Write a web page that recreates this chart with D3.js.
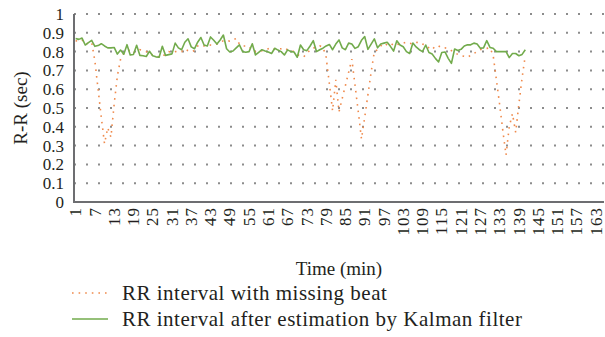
<!DOCTYPE html>
<html>
<head>
<meta charset="utf-8">
<script src="https://cdn.jsdelivr.net/npm/d3@7"></script>
<style>
  body { margin: 0; background: #fff; }
  svg text { font-family: "Liberation Serif", "DejaVu Serif", serif; fill: #231f20; }
</style>
</head>
<body>
<div class="canvas"></div>
<script>
// minutes on the category axis (1..165), labels every 6th
const minutes = d3.range(1, 166);
const yTicks = [0, 0.1, 0.2, 0.3, 0.4, 0.5, 0.6, 0.7, 0.8, 0.9, 1];

// RR interval with missing beat (orange, dotted)
const rrMissing = [
  0.858, 0.855, 0.862, 0.84, 0.845, 0.85, 0.75, 0.6, 0.45, 0.31,
  0.395, 0.345, 0.52, 0.67, 0.76, 0.79, 0.8, 0.81, 0.795, 0.8,
  0.81, 0.805, 0.8, 0.795, 0.78, 0.775, 0.772, 0.77, 0.79, 0.8,
  0.795, 0.8, 0.802, 0.8, 0.815, 0.805, 0.8, 0.805, 0.83, 0.835,
  0.83, 0.828, 0.835, 0.835, 0.84, 0.85, 0.858, 0.86, 0.855, 0.862,
  0.87, 0.84, 0.83, 0.83, 0.828, 0.805, 0.8, 0.8, 0.805, 0.81,
  0.815, 0.82, 0.812, 0.815, 0.815, 0.82, 0.81, 0.805, 0.8, 0.785,
  0.775, 0.772, 0.79, 0.81, 0.82, 0.822, 0.83, 0.825, 0.77, 0.63,
  0.485, 0.65, 0.48, 0.55, 0.62, 0.69, 0.76, 0.62, 0.48, 0.335,
  0.45, 0.57, 0.69, 0.8, 0.81, 0.83, 0.845, 0.835, 0.83, 0.845,
  0.84, 0.838, 0.845, 0.85, 0.845, 0.84, 0.848, 0.85, 0.84, 0.835,
  0.82, 0.81, 0.83, 0.83, 0.82, 0.82, 0.815, 0.805, 0.795, 0.785,
  0.778, 0.775, 0.77, 0.78, 0.79, 0.8, 0.81, 0.815, 0.817, 0.82,
  0.78, 0.65, 0.52, 0.38, 0.25, 0.4, 0.47, 0.37, 0.52, 0.66,
  0.78
];

// RR interval after estimation by Kalman filter (green, solid)
const rrKalman = [
  0.87, 0.865, 0.872, 0.835, 0.848, 0.86, 0.828, 0.832, 0.842, 0.83,
  0.82, 0.82, 0.822, 0.787, 0.808, 0.786, 0.837, 0.782, 0.785, 0.834,
  0.78, 0.778, 0.774, 0.802, 0.778, 0.772, 0.77, 0.828, 0.78, 0.784,
  0.788, 0.845, 0.82, 0.81, 0.85, 0.868, 0.825, 0.815, 0.85, 0.875,
  0.835, 0.83, 0.878, 0.86, 0.84, 0.862, 0.888, 0.815, 0.798, 0.803,
  0.82, 0.836, 0.8, 0.797, 0.8, 0.842, 0.782, 0.796, 0.81, 0.803,
  0.798, 0.79, 0.818, 0.808, 0.8, 0.782, 0.809, 0.8, 0.798, 0.77,
  0.835, 0.81, 0.805, 0.83, 0.858, 0.8, 0.81, 0.818, 0.83, 0.838,
  0.81, 0.84, 0.862, 0.82, 0.81, 0.845, 0.84, 0.817, 0.826, 0.86,
  0.88, 0.812, 0.84, 0.868, 0.82, 0.84, 0.845, 0.85, 0.828, 0.803,
  0.858, 0.835, 0.826, 0.8, 0.79, 0.846, 0.825, 0.81, 0.8, 0.835,
  0.795, 0.787, 0.764, 0.745, 0.795, 0.798, 0.764, 0.737, 0.814, 0.806,
  0.812, 0.83, 0.836, 0.836, 0.845, 0.84, 0.818, 0.82, 0.858, 0.822,
  0.818, 0.8, 0.8, 0.8, 0.8, 0.768, 0.79, 0.79, 0.778, 0.785,
  0.81
];

const seriesNames = ["RR interval with missing beat", "RR interval after estimation by Kalman filter"];
const colours = { missing: "#ef8a4c", kalman: "#72ab4c" };

const dims = { width: 605, height: 337 };
const plot = { left: 74, right: 604, top: 14, bottom: 202 };

const svg = d3
  .select(".canvas")
  .append("svg")
  .attr("width", dims.width)
  .attr("height", dims.height);

const x = d3.scaleBand().domain(minutes).range([plot.left, plot.right]).padding(0);
const y = d3.scaleLinear().domain([0, 1]).range([plot.bottom, plot.top]);
const cx = (i) => x(minutes[i]) + x.bandwidth() / 2;

// dotted horizontal gridlines
svg
  .append("g")
  .selectAll("line")
  .data(yTicks.filter((d) => d > 0))
  .join("line")
  .attr("x1", plot.left)
  .attr("x2", plot.right)
  .attr("y1", (d) => y(d))
  .attr("y2", (d) => y(d))
  .attr("stroke", "#8c8c8c")
  .attr("stroke-width", 2)
  .attr("stroke-dasharray", "2 10");

// y axis
const yAxis = svg
  .append("g")
  .attr("transform", `translate(${plot.left},0)`)
  .call(d3.axisLeft(y).tickValues(yTicks).tickSize(0).tickPadding(10).tickFormat(d3.format("")));
yAxis.select(".domain").remove();
yAxis.attr("font-family", null).attr("font-size", null);
yAxis.selectAll("text").style("font-size", "17px");

// x axis
const xAxis = svg
  .append("g")
  .attr("transform", `translate(0,${plot.bottom})`)
  .call(d3.axisBottom(x).tickValues(minutes.filter((d) => (d - 1) % 6 === 0)).tickSize(0));
xAxis.select(".domain").remove();
xAxis.attr("font-family", null).attr("font-size", null);
xAxis
  .selectAll("text")
  .style("font-size", "17px")
  .style("letter-spacing", "1px")
  .attr("transform", "rotate(-90)")
  .attr("text-anchor", "end")
  .attr("x", -5)
  .attr("y", 0)
  .attr("dy", "0.33em");

// axis lines
svg
  .append("path")
  .attr("d", `M${plot.left},${plot.top}V${plot.bottom}H${plot.right}`)
  .attr("fill", "none")
  .attr("stroke", "#6d6e71")
  .attr("stroke-width", 2);

const line = (vals) =>
  d3
    .line()
    .x((d, i) => cx(i))
    .y((d) => y(d))(vals);

svg
  .append("path")
  .attr("d", line(rrMissing))
  .attr("fill", "none")
  .attr("stroke", colours.missing)
  .attr("stroke-width", 1.6)
  .attr("stroke-dasharray", "1.6 5");

svg
  .append("path")
  .attr("d", line(rrKalman))
  .attr("fill", "none")
  .attr("stroke", colours.kalman)
  .attr("stroke-width", 1.6)
  .attr("stroke-linejoin", "round");

// axis titles
svg
  .append("text")
  .attr("x", (plot.left + plot.right) / 2)
  .attr("y", 275)
  .attr("text-anchor", "middle")
  .style("font-size", "19px")
  .text("Time (min)");

svg
  .append("text")
  .attr("transform", `translate(27,${(plot.top + plot.bottom) / 2}) rotate(-90)`)
  .attr("text-anchor", "middle")
  .style("font-size", "19px")
  .text("R-R (sec)");

// legend
const legend = svg.append("g");
const legendRows = [
  { name: seriesNames[0], colour: colours.missing, dash: "1.6 5", y: 293 },
  { name: seriesNames[1], colour: colours.kalman, dash: null, y: 319 },
];
legendRows.forEach((r) => {
  legend
    .append("line")
    .attr("x1", 72)
    .attr("x2", 108)
    .attr("y1", r.y)
    .attr("y2", r.y)
    .attr("stroke", r.colour)
    .attr("stroke-width", 1.6)
    .attr("stroke-dasharray", r.dash);
  legend
    .append("text")
    .attr("x", 122)
    .attr("y", r.y)
    .attr("dy", "0.35em")
    .style("font-size", "21px")
    .style("letter-spacing", "0.5px")
    .text(r.name);
});
</script>
</body>
</html>
